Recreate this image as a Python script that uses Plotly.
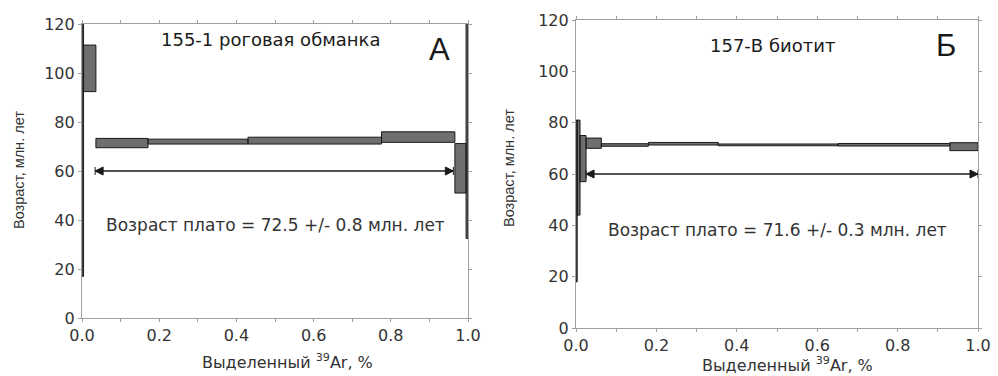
import plotly.graph_objects as go

# ---- data ----
# Panel A: 155-1 hornblende
left_edges = [0.0, 0.004, 0.036, 0.171, 0.430, 0.776, 0.966, 0.995, 1.0]
left_lo = [17, 92.4, 69.5, 71.0, 71.0, 71.7, 51.0, 32.5]
left_hi = [121, 111.4, 73.3, 73.0, 73.8, 76.0, 71.2, 121]
left_plateau_x = [0.034, 0.962]
left_plateau_age = 60
# Panel Б: 157-B biotite
right_edges = [0.0, 0.003, 0.010, 0.025, 0.063, 0.180, 0.354, 0.652, 0.930, 1.0]
right_lo = [18, 44, 57, 70.0, 70.8, 71.3, 71.0, 70.9, 69.1]
right_hi = [81, 81, 75, 74.0, 71.8, 72.3, 71.7, 71.9, 72.2]
right_plateau_x = [0.025, 1.0]
right_plateau_age = 60

x_tickvals = [0.0, 0.2, 0.4, 0.6, 0.8, 1.0]
x_ticktext = ["0.0", "0.2", "0.4", "0.6", "0.8", "1.0"]
y_tickvals = [0, 20, 40, 60, 80, 100, 120]

title_left = "155-1 роговая обманка"
title_right = "157-В биотит"
letter_left = "А"
letter_right = "Б"
plateau_left = "Возраст плато = 72.5 +/- 0.8 млн. лет"
plateau_right = "Возраст плато = 71.6 +/- 0.3 млн. лет"
xlabel = "Выделенный <sup>39</sup>Ar, %"
ylabel = "Возраст, млн. лет"

FONT = "DejaVu Sans, sans-serif"
FONT_NARROW = "Liberation Sans, Arial, sans-serif"
FILL = "#6e6e6e"
TXT = "#333333"


def rects(edges, lo, hi):
    xs, ys = [], []
    for i in range(len(lo)):
        x0, x1 = edges[i], edges[i + 1]
        xs += [x0, x1, x1, x0, x0, None]
        ys += [lo[i], lo[i], hi[i], hi[i], lo[i], None]
    return xs, ys


fig = go.Figure()

for edges, lo, hi, xa, ya in [
    (left_edges, left_lo, left_hi, "x", "y"),
    (right_edges, right_lo, right_hi, "x2", "y2"),
]:
    xs, ys = rects(edges, lo, hi)
    fig.add_trace(go.Scatter(
        x=xs, y=ys, mode="lines", fill="toself", fillcolor=FILL,
        line=dict(color="#1a1a1a", width=1), xaxis=xa, yaxis=ya,
        showlegend=False, hoverinfo="skip"))

for px, age, xa, ya in [
    (left_plateau_x, left_plateau_age, "x", "y"),
    (right_plateau_x, right_plateau_age, "x2", "y2"),
]:
    fig.add_trace(go.Scatter(
        x=px, y=[age, age], mode="lines+markers",
        line=dict(color="#1a1a1a", width=1.5),
        marker=dict(symbol=["arrow-bar-left", "arrow-bar-right"], size=8,
                    color="#1a1a1a", line=dict(color="#1a1a1a", width=1)),
        xaxis=xa, yaxis=ya, showlegend=False, hoverinfo="skip", cliponaxis=False))

axis_common = dict(
    showgrid=False, zeroline=False, showline=True, linecolor="#a0a0a0",
    linewidth=1.2, mirror="allticks", ticks="outside", ticklen=3,
    tickcolor="#a0a0a0", automargin=False,
    tickfont=dict(family=FONT, size=16, color=TXT),
)
x_minor = dict(dtick=0.1, ticks="outside", ticklen=3, tickcolor="#a0a0a0")

fig.update_layout(
    template="none",
    width=998, height=376,
    margin=dict(l=0, r=0, t=0, b=0),
    paper_bgcolor="white", plot_bgcolor="white",
    font=dict(family=FONT, color=TXT),
    xaxis=dict(domain=[82 / 998, 468 / 998], range=[0, 1], tickvals=x_tickvals,
               ticktext=x_ticktext, anchor="y", minor=x_minor, **axis_common),
    yaxis=dict(domain=[1 - 318 / 376, 1 - 24 / 376], range=[0, 120],
               tickvals=y_tickvals, anchor="x", **axis_common),
    xaxis2=dict(domain=[576 / 998, 978 / 998], range=[0, 1], tickvals=x_tickvals,
                ticktext=x_ticktext, anchor="y2", minor=x_minor, **axis_common),
    yaxis2=dict(domain=[1 - 328 / 376, 1 - 20 / 376], range=[0, 120],
                tickvals=y_tickvals, anchor="x2", **axis_common),
)

ann = []
for xr, yr, t, lt, pt, lx, ty, ly, py in [
    ("x", "y", title_left, letter_left, plateau_left, 0.927, 113.5, 109.4, 38),
    ("x2", "y2", title_right, letter_right, plateau_right, 0.92, 110.2, 110.2, 38.2),
]:
    ann.append(dict(x=0.49, y=ty, xref=xr, yref=yr, text=t, showarrow=False,
                    xanchor="center", yanchor="middle",
                    font=dict(family=FONT, size=18, color="#1a1a1a")))
    ann.append(dict(x=lx, y=ly, xref=xr, yref=yr, text=lt, showarrow=False,
                    xanchor="center", yanchor="middle",
                    font=dict(family=FONT_NARROW, size=31, color="#1a1a1a")))
    ann.append(dict(x=0.5, y=py, xref=xr, yref=yr, text=pt, showarrow=False,
                    xanchor="center", yanchor="middle",
                    font=dict(family=FONT, size=17, color=TXT)))

# axis titles (paper coords)
for x, y, t, ang, fam, size in [
    (19, 170, ylabel, -90, FONT_NARROW, 14.5),
    (509, 168, ylabel, -90, FONT_NARROW, 14.5),
    (287, 361, xlabel, 0, FONT, 16),
    (787, 364, xlabel, 0, FONT, 16),
]:
    ann.append(dict(x=x / 998, y=1 - y / 376, xref="paper", yref="paper",
                    text=t, textangle=ang, showarrow=False,
                    xanchor="center", yanchor="middle",
                    font=dict(family=fam, size=size, color=TXT)))
fig.update_layout(annotations=ann)

fig.write_html("out.html")
